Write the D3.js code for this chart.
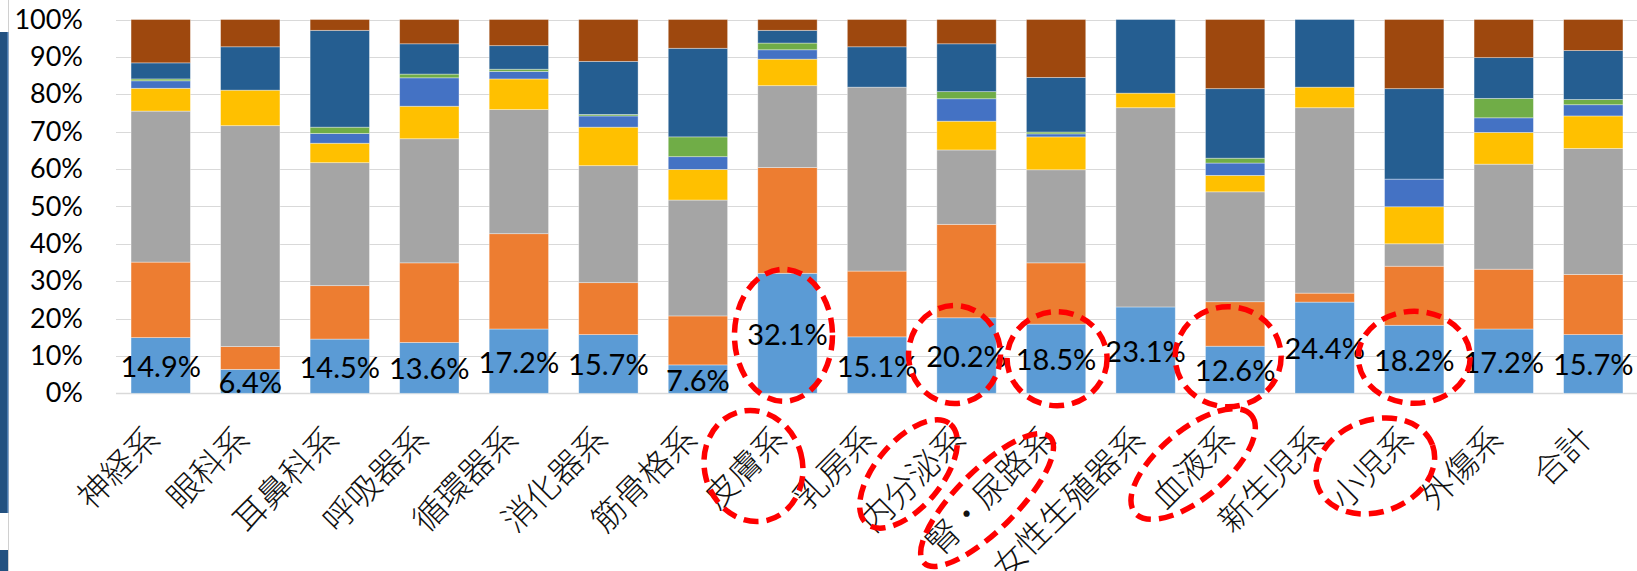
<!DOCTYPE html>
<html>
<head>
<meta charset="utf-8">
<script src="https://cdn.jsdelivr.net/npm/d3@7"></script>
<style>
    body { margin: 0; background: #fff; }
    #chart { width: 1637px; height: 571px; overflow: hidden; }
</style>
</head>
<body>
<div id="chart"></div>
<script>
var categories = ['神経系', '眼科系', '耳鼻科系', '呼吸器系', '循環器系', '消化器系', '筋骨格系', '皮膚系', '乳房系',
    '内分泌系', '腎・尿路系', '女性生殖器系', '血液系', '新生児系', '小児系', '外傷系', '合計'];

// share of each series per category (%), bottom to top
var s1 = [14.9, 6.4, 14.5, 13.6, 17.2, 15.7, 7.6, 32.1, 15.1, 20.2, 18.5, 23.1, 12.6, 24.4, 18.2, 17.2, 15.7];
var s2 = [20.2, 6.1, 14.3, 21.3, 25.5, 13.9, 13.1, 28.3, 17.6, 25.0, 16.4, 0, 11.9, 2.4, 15.8, 16.0, 16.1];
var s3 = [40.4, 59.1, 32.9, 33.2, 33.2, 31.3, 31.0, 21.9, 49.2, 19.9, 24.9, 53.3, 29.4, 49.6, 6.0, 28.1, 33.7];
var s4 = [6.1, 9.5, 5.2, 8.7, 8.2, 10.3, 8.2, 7.1, 0, 7.7, 8.8, 3.9, 4.4, 5.5, 9.9, 8.5, 8.7];
var s5 = [2.0, 0, 2.6, 7.6, 2.0, 3.0, 3.4, 2.5, 0, 6.0, 0.8, 0, 3.3, 0, 7.4, 3.9, 3.0];
var s6 = [0.5, 0, 1.7, 1.0, 0.6, 0.4, 5.3, 1.8, 0, 1.9, 0.5, 0, 1.3, 0, 0, 5.2, 1.4];
var s7 = [4.3, 11.6, 25.9, 8.1, 6.3, 14.2, 23.7, 3.4, 10.8, 12.8, 14.6, 19.7, 18.6, 18.1, 24.2, 10.9, 13.1];
var s8 = [11.6, 7.3, 2.9, 6.5, 7.0, 11.2, 7.7, 2.9, 7.3, 6.5, 15.5, 0, 18.5, 0, 18.5, 10.2, 8.3];

var yTicks = [0, 0.1, 0.2, 0.3, 0.4, 0.5, 0.6, 0.7, 0.8, 0.9, 1];

var seriesKeys = ['s1', 's2', 's3', 's4', 's5', 's6', 's7', 's8'];
var seriesColors = ['#5b9bd5', '#ed7d31', '#a5a5a5', '#ffc000', '#4472c4', '#70ad47', '#255e91', '#9e480e'];

// red dashed rings drawn over the chart (annotation, not data)
var dataRings = [
    {cat: '皮膚系', dx: -4, dy: 2, rx: 49, ry: 66},
    {cat: '内分泌系', dx: -12, dy: -1, rx: 46, ry: 49},
    {cat: '腎・尿路系', dx: 1, dy: 0, rx: 50, ry: 47},
    {cat: '血液系', dx: -7, dy: -13, rx: 53, ry: 50},
    {cat: '小児系', dx: 0, dy: -2, rx: 56, ry: 46}
];
var labelRings = [
    {cat: '皮膚系', dx: -34, dy: 466, rx: 49, ry: 56, rot: -15},
    {cat: '内分泌系', dx: -58, dy: 474, rx: 65, ry: 33, rot: -50},
    {cat: '腎・尿路系', dx: -69, dy: 500, rx: 89, ry: 30, rot: -45},
    {cat: '血液系', dx: -42, dy: 464, rx: 76, ry: 34, rot: -40},
    {cat: '小児系', dx: -39, dy: 466, rx: 61, ry: 46, rot: -20}
];

var width = 1637, height = 571;

var buildRows = function(){
    var all = {s1: s1, s2: s2, s3: s3, s4: s4, s5: s5, s6: s6, s7: s7, s8: s8};
    return categories.map(function(c, i){
        var row = {cat: c};
        seriesKeys.forEach(function(k){ row[k] = all[k][i]; });
        return row;
    });
};

var drawChart = function(){
    var rows = buildRows();
    var stacked = d3.stack().keys(seriesKeys).offset(d3.stackOffsetExpand)(rows);

    var svg = d3.select('#chart').append('svg')
        .attr('width', width).attr('height', height);

    var x = d3.scaleBand().domain(categories).range([116, 1638])
        .paddingInner(0.337).paddingOuter(0.168);
    var y = d3.scaleLinear().domain([0, 1]).range([393.3, 19.5]);

    // window frame bits at the left edge
    svg.append('line').attr('x1', 8.5).attr('x2', 8.5).attr('y1', 0).attr('y2', height)
        .style('stroke', '#d0d0d0').style('stroke-width', 1);
    svg.append('rect').attr('x', 0).attr('y', 32).attr('width', 8).attr('height', 481).style('fill', '#235180');
    svg.append('rect').attr('x', 0).attr('y', 550).attr('width', 8).attr('height', 21).style('fill', '#235180');
    svg.append('rect').attr('x', 7).attr('y', 32).attr('width', 1.5).attr('height', 481).style('fill', '#4a7bb0');

    // gridlines
    svg.append('g').selectAll('line').data(yTicks).enter().append('line')
        .attr('x1', 116).attr('x2', width)
        .attr('y1', function(d){ return Math.round(y(d)) + 0.5; })
        .attr('y2', function(d){ return Math.round(y(d)) + 0.5; })
        .style('stroke', '#d9d9d9')
        .style('stroke-width', function(d){ return d === 0 ? 1.6 : 1.2; });

    var yAxis = d3.axisLeft(y).tickValues(yTicks).tickFormat(d3.format('.0%')).tickSize(0).tickPadding(0);
    svg.append('g').attr('transform', 'translate(83,0)').call(yAxis)
        .call(function(g){ g.select('.domain').remove(); })
        .selectAll('text')
        .style('font-family', 'Lato, "Open Sans", sans-serif')
        .style('font-size', '27px')
        .style('fill', '#000');

    // stacked bars
    svg.append('g').selectAll('g').data(stacked).enter().append('g')
        .style('fill', function(d, i){ return seriesColors[i]; })
        .selectAll('rect').data(function(d){ return d; }).enter().append('rect')
        .attr('x', function(d){ return x(d.data.cat); })
        .attr('y', function(d){ return y(d[1]); })
        .attr('width', x.bandwidth())
        .attr('height', function(d){ return Math.max(0, y(d[0]) - y(d[1])); })
        .style('stroke', 'rgba(255,255,255,0.45)')
        .style('stroke-width', 0.8);

    // labels on the first series
    svg.append('g').selectAll('text').data(stacked[0]).enter().append('text')
        .attr('x', function(d){ return x(d.data.cat) + x.bandwidth() / 2; })
        .attr('y', function(d){ return (y(d[0]) + y(d[1])) / 2; })
        .attr('text-anchor', 'middle')
        .attr('dominant-baseline', 'central')
        .style('font-family', 'Lato, "Open Sans", sans-serif')
        .style('font-size', '29px')
        .style('fill', '#000')
        .text(function(d){ return d.data.s1.toFixed(1) + '%'; });

    // category labels, rotated
    var xAxis = d3.axisBottom(x).tickSize(0).tickPadding(0);
    var xg = svg.append('g').attr('transform', 'translate(0,393)').call(xAxis);
    xg.select('.domain').remove();
    xg.selectAll('text')
        .attr('y', 0).attr('dy', 0)
        .attr('text-anchor', 'end')
        .attr('dominant-baseline', 'central')
        .attr('transform', 'translate(-9,38) rotate(-45)')
        .style('font-family', '"Noto Sans CJK JP", sans-serif')
        .style('font-weight', 300)
        .style('font-size', '33px')
        .style('fill', '#111');

    // annotation rings
    var seg = {};
    stacked[0].forEach(function(d){ seg[d.data.cat] = (y(d[0]) + y(d[1])) / 2; });
    var ringStyle = function(sel){
        sel.style('fill', 'none').style('stroke', '#ff0000')
            .style('stroke-width', 5.5).style('stroke-dasharray', '15 8');
    };
    svg.append('g').selectAll('ellipse').data(dataRings).enter().append('ellipse')
        .attr('cx', function(d){ return x(d.cat) + x.bandwidth() / 2 + d.dx; })
        .attr('cy', function(d){ return seg[d.cat] + d.dy; })
        .attr('rx', function(d){ return d.rx; })
        .attr('ry', function(d){ return d.ry; })
        .call(ringStyle);
    svg.append('g').selectAll('ellipse').data(labelRings).enter().append('ellipse')
        .attr('transform', function(d){
            return 'translate(' + (x(d.cat) + x.bandwidth() / 2 + d.dx) + ',' + d.dy + ') rotate(' + d.rot + ')';
        })
        .attr('rx', function(d){ return d.rx; })
        .attr('ry', function(d){ return d.ry; })
        .call(ringStyle);
};

drawChart();
</script>
</body>
</html>
